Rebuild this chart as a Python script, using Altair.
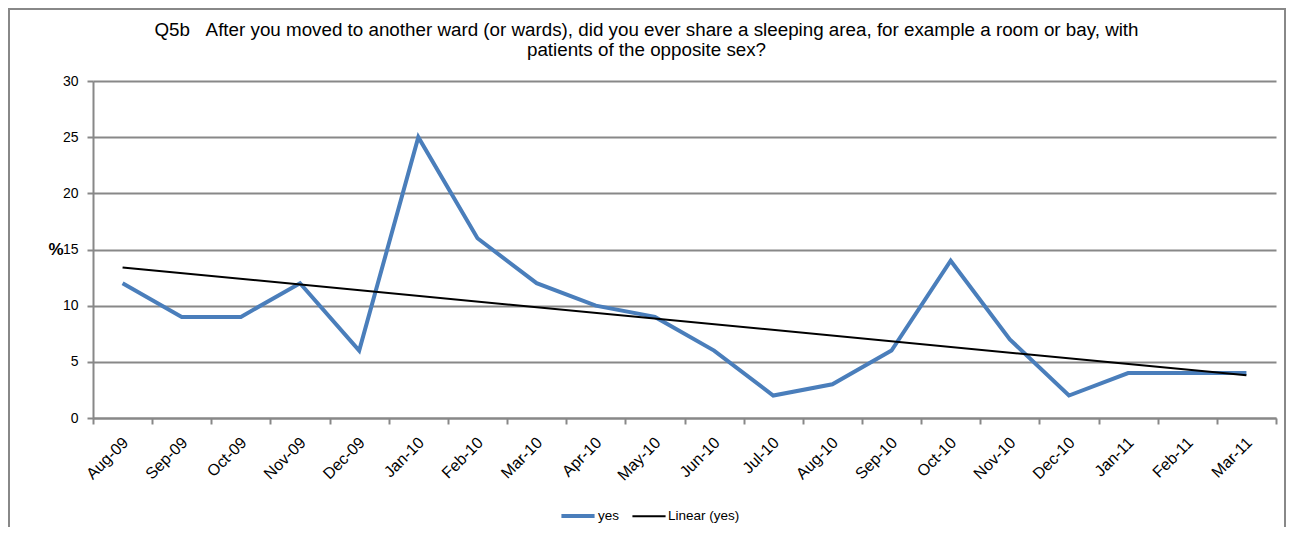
import altair as alt
import pandas as pd

months = ["Aug-09", "Sep-09", "Oct-09", "Nov-09", "Dec-09", "Jan-10", "Feb-10",
          "Mar-10", "Apr-10", "May-10", "Jun-10", "Jul-10", "Aug-10", "Sep-10",
          "Oct-10", "Nov-10", "Dec-10", "Jan-11", "Feb-11", "Mar-11"]
yes = [12, 9, 9, 12, 6, 25, 16, 12, 10, 9, 6, 2, 3, 6, 14, 7, 2, 4, 4, 4]
series_names = ["yes", "Linear (yes)"]
series_colors = ["#4a7ebb", "#000000"]
series_widths = [4, 2]
y_ticks = [0, 5, 10, 15, 20, 25, 30]
title_lines = [
    "Q5b\u00a0\u00a0\u00a0After you moved to another ward (or wards), did you ever share a sleeping area, for example a room or bay, with",
    "patients of the opposite sex?",
]

df = pd.DataFrame({"month": months, "idx": list(range(len(months))), "value": yes})

W, H = 1183, 337
FONT = "Liberation Sans"
GREY = "#888888"

xenc = alt.X(
    "month:N", sort=months, bandPosition=0.5,
    scale=alt.Scale(type="band", domain=months, paddingInner=0, paddingOuter=0),
    axis=alt.Axis(title=None, labelAngle=-45, tickBand="extent", grid=False,
                  domainColor=GREY, domainWidth=2, tickColor=GREY, tickWidth=2,
                  tickSize=6, labelFont=FONT, labelFontSize=16, labelColor="black",
                  labelPadding=10, labelOffset=-3),
)
yenc = alt.Y(
    "value:Q", scale=alt.Scale(domain=[0, 30]),
    axis=alt.Axis(values=y_ticks, title="%", titleAngle=0, titleX=-30, titleY=H / 2,
                  titleAlign="right", titleBaseline="middle", titleFontSize=17,
                  titleFontWeight="bold", titleFont=FONT, titleColor="black",
                  grid=True, gridColor=GREY, gridWidth=2, domainColor=GREY,
                  domainWidth=2, tickColor=GREY, tickWidth=2, tickSize=6,
                  labelFont=FONT, labelFontSize=14, labelColor="black", labelPadding=9),
)
color = alt.Color("series:N", scale=alt.Scale(domain=series_names, range=series_colors),
                  legend=alt.Legend(title=None))
width = alt.StrokeWidth("series:N", scale=alt.Scale(domain=series_names, range=series_widths),
                        legend=alt.Legend(title=None))

base = alt.Chart(df)
line = base.transform_calculate(series="'yes'").mark_line().encode(
    x=xenc, y=yenc, color=color, strokeWidth=width)

js_months = "[" + ",".join("'" + m + "'" for m in months) + "]"
trend = base.transform_regression("idx", "value").transform_calculate(
    month=js_months + "[datum.idx]", series="'Linear (yes)'"
).mark_line().encode(x=xenc, y=yenc, color=color, strokeWidth=width)

frame = alt.Chart(pd.DataFrame({"a": [0]})).mark_rect(
    fillOpacity=0, stroke=GREY, strokeWidth=2
).encode(x=alt.value(-84), x2=alt.value(1192), y=alt.value(-72), y2=alt.value(470))

chart = alt.layer(frame, line, trend).properties(
    width=W, height=H,
    padding={"left": 85, "top": 73, "right": 10, "bottom": 109},
    autosize=alt.AutoSizeParams(type="none"),
    title=alt.Title(text=title_lines, anchor="middle", frame="group", dx=-38, offset=0,
                    dy=71, baseline="bottom", fontSize=18.8, font=FONT, fontWeight="normal",
                    color="black", lineHeight=20),
).configure_view(stroke=None).configure_legend(
    orient="none", legendX=466, legendY=416, direction="horizontal",
    symbolType="stroke", symbolSize=1100, labelFont=FONT,
    labelFontSize=13.5, labelColor="black", columnPadding=8, labelOffset=1
)

chart.save("out.html", embed_options={"renderer": "svg", "actions": False})
